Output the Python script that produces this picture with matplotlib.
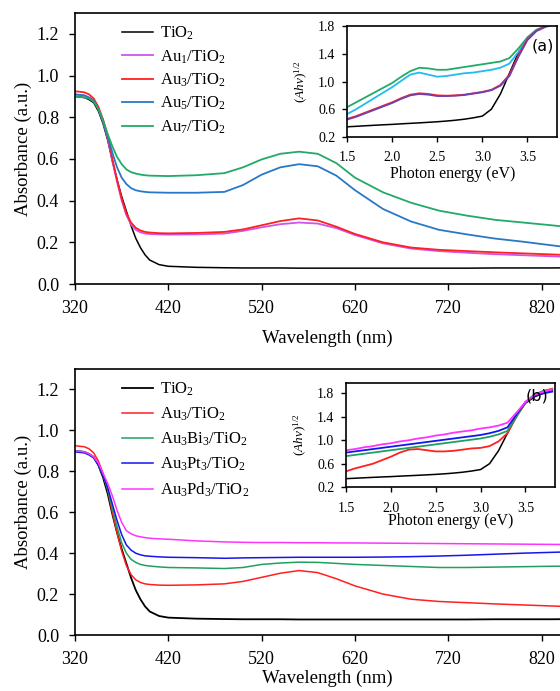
import matplotlib
matplotlib.use('Agg')
import matplotlib.pyplot as plt

plt.rcParams['font.family'] = ['Liberation Serif', 'DejaVu Serif']
plt.rcParams['mathtext.fontset'] = 'custom'
plt.rcParams['mathtext.rm'] = 'Liberation Serif'
plt.rcParams['mathtext.it'] = 'Liberation Serif:italic'
plt.rcParams['xtick.direction'] = 'out'
plt.rcParams['ytick.direction'] = 'out'

# ---- main spectra ----
wl = [320, 330, 335, 340, 345, 350, 355, 360, 365, 370, 375, 380, 385, 390, 395, 400, 410, 420,
      450, 480, 500, 520, 540, 560, 580, 600, 620, 650, 680, 710, 740, 770, 800, 830, 860]

tio2 = [0.90, 0.895, 0.885, 0.87, 0.83, 0.77, 0.69, 0.59, 0.50, 0.42, 0.35, 0.28, 0.22, 0.175,
        0.14, 0.115, 0.093, 0.085,
        0.08, 0.078, 0.077, 0.077, 0.077, 0.076, 0.076, 0.076, 0.076, 0.076, 0.076, 0.076,
        0.076, 0.077, 0.077, 0.077, 0.078]
au1 = [0.91, 0.905, 0.895, 0.88, 0.84, 0.78, 0.70, 0.59, 0.49, 0.40, 0.33, 0.285, 0.26, 0.248,
       0.242, 0.24, 0.238, 0.237,
       0.238, 0.242, 0.255, 0.272, 0.287, 0.295, 0.29, 0.268, 0.235, 0.195, 0.17, 0.158,
       0.15, 0.143, 0.138, 0.133, 0.128]
au3 = [0.925, 0.92, 0.91, 0.89, 0.85, 0.79, 0.71, 0.60, 0.50, 0.41, 0.34, 0.295, 0.27, 0.257,
       0.25, 0.247, 0.244, 0.243,
       0.245, 0.25, 0.262, 0.282, 0.302, 0.315, 0.305, 0.275, 0.24, 0.2, 0.175, 0.164,
       0.158, 0.152, 0.147, 0.142, 0.137]
au5 = [0.91, 0.905, 0.895, 0.88, 0.84, 0.78, 0.71, 0.63, 0.56, 0.51, 0.48, 0.46, 0.45, 0.445,
       0.442, 0.44, 0.439, 0.438,
       0.438, 0.442, 0.475, 0.525, 0.56, 0.575, 0.565, 0.52, 0.45, 0.36, 0.3, 0.26,
       0.238, 0.218, 0.203, 0.186, 0.17]
au7 = [0.90, 0.895, 0.89, 0.875, 0.84, 0.785, 0.72, 0.66, 0.61, 0.575, 0.55, 0.537, 0.53, 0.525,
       0.522, 0.52, 0.519, 0.518,
       0.522, 0.532, 0.56, 0.598, 0.625, 0.635, 0.625, 0.58, 0.51, 0.44, 0.39, 0.352,
       0.328, 0.308, 0.295, 0.282, 0.268]

au3bi3 = [0.90, 0.895, 0.885, 0.87, 0.83, 0.78, 0.71, 0.62, 0.53, 0.45, 0.40, 0.37, 0.355, 0.345,
          0.34, 0.337, 0.333, 0.33,
          0.328, 0.325, 0.33, 0.345, 0.352, 0.356, 0.355, 0.35, 0.345, 0.34, 0.335, 0.33,
          0.33, 0.332, 0.334, 0.336, 0.337]
au3pt3 = [0.895, 0.89, 0.88, 0.865, 0.83, 0.78, 0.72, 0.64, 0.56, 0.49, 0.44, 0.415, 0.40, 0.392,
          0.387, 0.385, 0.382, 0.38,
          0.378, 0.375, 0.377, 0.378, 0.379, 0.38, 0.38, 0.38, 0.38, 0.381, 0.383, 0.386,
          0.39, 0.395, 0.4, 0.404, 0.408]
au3pd3 = [0.90, 0.895, 0.885, 0.87, 0.84, 0.79, 0.74, 0.68, 0.61, 0.55, 0.51, 0.495, 0.485, 0.48,
          0.476, 0.473, 0.47, 0.468,
          0.46, 0.455, 0.453, 0.452, 0.452, 0.451, 0.451, 0.45, 0.45, 0.449, 0.448, 0.447,
          0.446, 0.445, 0.444, 0.443, 0.442]

# ---- Tauc insets ----
ev = [1.5, 1.6, 1.7, 1.8, 1.9, 2.0, 2.1, 2.2, 2.3, 2.4, 2.5, 2.6, 2.7, 2.8, 2.9, 3.0,
      3.1, 3.2, 3.3, 3.4, 3.5, 3.6, 3.7, 3.8]

ta_tio2 = [0.345, 0.352, 0.36, 0.367, 0.374, 0.38, 0.388, 0.395, 0.402, 0.41, 0.418, 0.428,
           0.44, 0.455, 0.475, 0.50, 0.6, 0.82, 1.12, 1.42, 1.63, 1.74, 1.8, 1.84]
ta_au1 = [0.45, 0.49, 0.54, 0.59, 0.64, 0.69, 0.75, 0.80, 0.82, 0.81, 0.79, 0.79, 0.795, 0.805,
          0.825, 0.845, 0.875, 0.94, 1.08, 1.36, 1.6, 1.73, 1.79, 1.83]
ta_au3 = [0.46, 0.5, 0.55, 0.6, 0.65, 0.7, 0.76, 0.81, 0.83, 0.82, 0.80, 0.795, 0.80, 0.81,
          0.83, 0.85, 0.88, 0.95, 1.1, 1.38, 1.62, 1.74, 1.8, 1.84]
ta_au5 = [0.53, 0.6, 0.68, 0.76, 0.84, 0.92, 1.01, 1.1, 1.13, 1.1, 1.07, 1.08, 1.1, 1.12,
          1.13, 1.15, 1.17, 1.2, 1.26, 1.43, 1.62, 1.74, 1.8, 1.84]
ta_au7 = [0.63, 0.7, 0.77, 0.84, 0.91, 0.98, 1.07, 1.15, 1.2, 1.19, 1.17, 1.17, 1.19, 1.21,
          1.23, 1.25, 1.27, 1.29, 1.34, 1.48, 1.64, 1.75, 1.8, 1.84]

tb_au3 = [0.47, 0.52, 0.56, 0.6, 0.66, 0.72, 0.79, 0.84, 0.85, 0.83, 0.81, 0.81, 0.82, 0.84,
          0.86, 0.87, 0.9, 0.98, 1.12, 1.4, 1.64, 1.77, 1.84, 1.88]
tb_bi = [0.73, 0.75, 0.77, 0.79, 0.81, 0.83, 0.85, 0.87, 0.89, 0.91, 0.93, 0.95, 0.97, 0.99,
         1.01, 1.03, 1.06, 1.1, 1.16, 1.4, 1.65, 1.78, 1.84, 1.87]
tb_pt = [0.79, 0.81, 0.83, 0.85, 0.87, 0.89, 0.91, 0.93, 0.95, 0.97, 0.99, 1.01, 1.03, 1.05,
         1.07, 1.09, 1.12, 1.16, 1.22, 1.44, 1.65, 1.76, 1.8, 1.83]
tb_pd = [0.83, 0.85, 0.88, 0.9, 0.93, 0.95, 0.98, 1.0, 1.03, 1.05, 1.08, 1.1, 1.13, 1.15,
         1.17, 1.2, 1.22, 1.25, 1.3, 1.47, 1.65, 1.77, 1.83, 1.87]

xticks = [320, 420, 520, 620, 720, 820]
yticks = [0.0, 0.2, 0.4, 0.6, 0.8, 1.0, 1.2]

fig = plt.figure(figsize=(5.6, 6.91), dpi=100)


def main_axes(rect, xpad):
    ax = fig.add_axes(rect)
    ax.set_xlim(320, 860)
    ax.set_ylim(0, 1.3)
    ax.set_xticks(xticks)
    ax.set_yticks(yticks)
    ax.set_yticklabels([f'{v:.1f}' for v in yticks])
    ax.tick_params(labelsize=13, length=4.5, width=1, pad=7)
    for s in ax.spines.values():
        s.set_linewidth(1.2)
    ax.set_xlabel('Wavelength (nm)', fontsize=13.5, labelpad=xpad)
    ax.set_ylabel('Absorbance (a.u.)', fontsize=13.5, labelpad=3)
    return ax


def inset_axes(rect, ytop, xpad):
    ax = fig.add_axes(rect)
    ax.set_xlim(1.5, 3.83)
    ax.set_ylim(0.2, ytop)
    ax.set_xticks([1.5, 2.0, 2.5, 3.0, 3.5])
    ax.set_yticks([0.2, 0.6, 1.0, 1.4, 1.8])
    ax.set_yticklabels(['0.2', '0.6', '1.0', '1.4', '1.8'])
    ax.tick_params(axis='y', labelsize=10, length=3.5, width=1, pad=5)
    ax.tick_params(axis='x', labelsize=10, length=3.5, width=1, pad=7)
    for s in ax.spines.values():
        s.set_linewidth(1.2)
    ax.set_xlabel('Photon energy (eV)', fontsize=11.5, labelpad=xpad)
    ax.set_ylabel(r'$(Ah\nu)^{1/2}$', fontsize=9.5, labelpad=6)
    return ax


# panel (a)
ax1 = main_axes([0.134, 0.589, 0.90, 0.392], 9)
ax1.plot(wl, tio2, color='black', lw=1.1, label='TiO$_2$')
ax1.plot(wl, au1, color='#CC55EE', lw=1.3, label='Au$_1$/TiO$_2$')
ax1.plot(wl, au3, color='#FF2020', lw=1.3, label='Au$_3$/TiO$_2$')
ax1.plot(wl, au5, color='#2878C8', lw=1.3, label='Au$_5$/TiO$_2$')
ax1.plot(wl, au7, color='#22AA66', lw=1.3, label='Au$_7$/TiO$_2$')
ax1.legend(loc='upper left', bbox_to_anchor=(0.063, 1.012), frameon=False, fontsize=12,
           handlelength=1.9, handletextpad=0.4, labelspacing=0.36)

ins1 = inset_axes([0.620, 0.802, 0.375, 0.160], 1.8, 1)
ins1.plot(ev, ta_tio2, color='black', lw=1.1)
ins1.plot(ev, ta_au7, color='#22AA66', lw=1.3)
ins1.plot(ev, ta_au5, color='#22BBEE', lw=1.3)
ins1.plot(ev, ta_au3, color='#FF2020', lw=1.3)
ins1.plot(ev, ta_au1, color='#7040B0', lw=1.3)
ins1.text(3.79, 1.52, '(a)', family='DejaVu Sans', fontsize=11.5, ha='right', va='center')

# panel (b)
ax2 = main_axes([0.134, 0.081, 0.90, 0.385], 1)
ax2.plot(wl, tio2, color='black', lw=1.3, label='TiO$_2$')
ax2.plot(wl, au3, color='#FF2020', lw=1.1, label='Au$_3$/TiO$_2$')
ax2.plot(wl, au3bi3, color='#20A060', lw=1.1, label='Au$_3$Bi$_3$/TiO$_2$')
ax2.plot(wl, au3pt3, color='#1515EE', lw=1.1, label='Au$_3$Pt$_3$/TiO$_2$')
ax2.plot(wl, au3pd3, color='#FF33FF', lw=1.1, label='Au$_3$Pd$_3$/TiO$_2$')
ax2.legend(loc='upper left', bbox_to_anchor=(0.063, 1.012), frameon=False, fontsize=12,
           handlelength=1.9, handletextpad=0.4, labelspacing=0.45)

ins2 = inset_axes([0.618, 0.295, 0.373, 0.151], 1.98, -1)
ins2.plot(ev, ta_tio2, color='black', lw=1.1)
ins2.plot(ev, tb_au3, color='#FF2020', lw=1.3)
ins2.plot(ev, tb_bi, color='#20A060', lw=1.3)
ins2.plot(ev, tb_pt, color='#1515EE', lw=1.3)
ins2.plot(ev, tb_pd, color='#FF33FF', lw=1.3)
ins2.text(3.76, 1.76, '(b)', family='DejaVu Sans', fontsize=11.5, ha='right', va='center')

fig.savefig('out.png', dpi=100)
